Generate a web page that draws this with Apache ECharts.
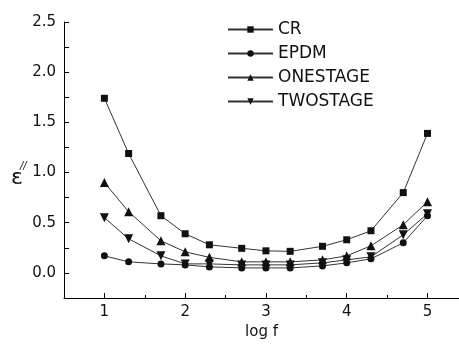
<!DOCTYPE html>
<html><head><meta charset="utf-8">
<script src="https://cdn.jsdelivr.net/npm/echarts@6/dist/echarts.min.js"></script>
<style>html,body{margin:0;padding:0;background:#fff}#c{width:459px;height:352px}</style>
</head><body><div id="c"></div>
<script>
var logF = [1, 1.3, 1.7, 2, 2.3, 2.7, 3, 3.3, 3.7, 4, 4.3, 4.7, 5];
var CR =        [1.74, 1.19, 0.57, 0.39, 0.28, 0.245, 0.22, 0.215, 0.265, 0.33, 0.42, 0.80, 1.39];
var EPDM =      [0.17, 0.11, 0.09, 0.08, 0.06, 0.05, 0.05, 0.05, 0.07, 0.10, 0.14, 0.30, 0.57];
var ONESTAGE =  [0.90, 0.61, 0.32, 0.21, 0.155, 0.11, 0.11, 0.11, 0.13, 0.17, 0.27, 0.48, 0.71];
var TWOSTAGE =  [0.55, 0.34, 0.17, 0.09, 0.09, 0.08, 0.08, 0.08, 0.10, 0.13, 0.16, 0.38, 0.59];
var xMajor = [1, 2, 3, 4, 5];
var xMinor = [1.5, 2.5, 3.5, 4.5];
var yLabels = [0, 0.5, 1.0, 1.5, 2.0, 2.5];
var yTicks = [0, 0.25, 0.5, 0.75, 1.0, 1.25, 1.5, 1.75, 2.0, 2.25, 2.5];

function pairs(ys){ return logF.map(function(x,i){ return [x, ys[i]]; }); }
var font = 'DejaVu Sans';
var lineCol = '#333';
function mk(name, data, symbol, size, rot){
  return {name:name, type:'line', data:pairs(data), symbol:symbol, symbolSize:size, symbolRotate:rot||0,
    lineStyle:{color:lineCol, width:1}, itemStyle:{color:'#111'}, emphasis:{disabled:true}, z:3};
}
var chart = echarts.init(document.getElementById('c'), null, {renderer:'canvas'});
chart.setOption({
  animation:false,
  grid:{left:64, right:0, top:22, bottom:54, outerBoundsMode:'none', containLabel:false},
  legend:{orient:'vertical', left:222, top:16, itemWidth:45, itemHeight:8, itemGap:7,
    textStyle:{fontFamily:font, fontSize:17, color:'#111'},
    data:['CR','EPDM','ONESTAGE','TWOSTAGE']},
  xAxis:[{type:'value', min:0.5, max:5.39,
    axisLine:{onZero:false, lineStyle:{color:'#000', width:1}},
    axisTick:{inside:true, length:5, customValues:xMajor, lineStyle:{color:'#000'}},
    axisLabel:{customValues:xMajor, fontFamily:font, fontSize:15, color:'#111', margin:7},
    splitLine:{show:false},
    name:'log f', nameLocation:'middle', nameGap:27, nameTextStyle:{fontFamily:font, fontSize:15, color:'#111'}},
    {type:'value', min:0.5, max:5.39, position:'bottom',
    axisLine:{show:false, onZero:false}, axisLabel:{show:false}, splitLine:{show:false},
    axisTick:{inside:true, length:3, customValues:xMinor, lineStyle:{color:'#000'}}}],
  yAxis:{type:'value', min:-0.25, max:2.5,
    axisLine:{show:true, onZero:false, lineStyle:{color:'#000', width:1}},
    axisTick:{show:true, inside:true, length:5, customValues:yTicks, lineStyle:{color:'#000'}},
    axisLabel:{customValues:yLabels, fontFamily:font, fontSize:15, color:'#111', margin:8,
      formatter:function(v){return v.toFixed(1);}},
    splitLine:{show:false}},
  graphic:[{type:'text', left:11, top:167, style:{text:'ε', font:'22px "DejaVu Sans"', fill:'#111'}},
           {type:'text', left:20, top:161, style:{text:'//', font:'italic 10px "DejaVu Sans"', fill:'#111'}}],
  series:[mk('CR',CR,'rect',7), mk('EPDM',EPDM,'circle',7), mk('ONESTAGE',ONESTAGE,'triangle',9), mk('TWOSTAGE',TWOSTAGE,'triangle',9,180)]
});
</script></body></html>
